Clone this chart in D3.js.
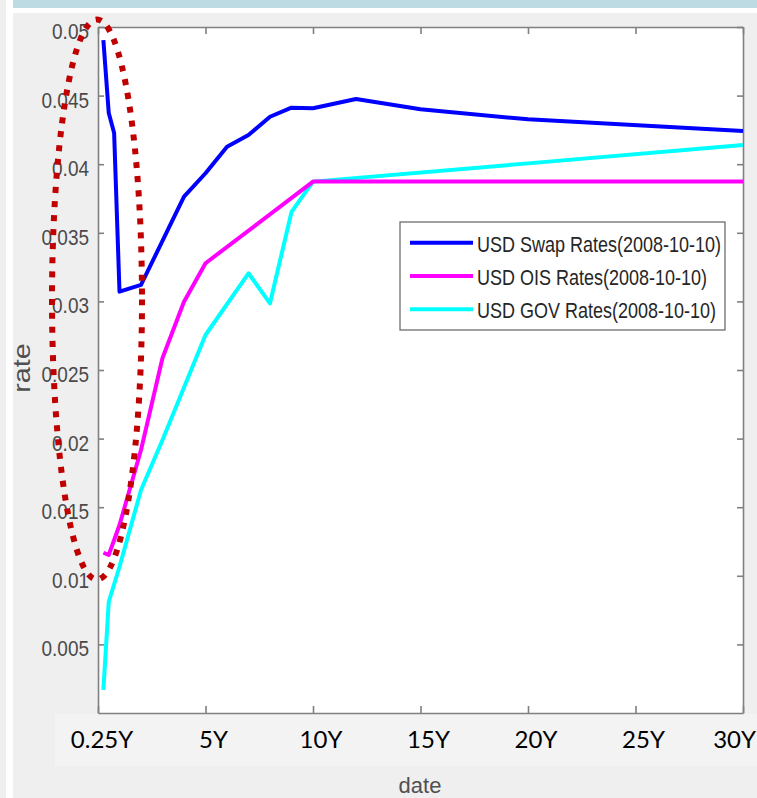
<!DOCTYPE html>
<html>
<head>
<meta charset="utf-8">
<script src="https://cdn.jsdelivr.net/npm/d3@7"></script>
<style>
  body { margin: 0; background: #efefef; }
  svg { display: block; }
</style>
</head>
<body>
<div class="chart"></div>
<script>
let swapTenors = [0.25, 0.5, 0.75, 1, 2, 4, 5, 6, 7, 8, 9, 10, 12, 15, 20, 30];
let swapRates  = [0.04905, 0.04373, 0.04228, 0.03071, 0.0312, 0.03763, 0.03934, 0.04128, 0.04213, 0.04346, 0.04412, 0.04408, 0.04475, 0.044, 0.04327, 0.04242];

let oisTenors = [0.25, 0.5, 0.75, 1, 2, 3, 4, 5, 10, 30];
let oisRates  = [0.01168, 0.01152, 0.01261, 0.0137, 0.01917, 0.02588, 0.02998, 0.03278, 0.03873, 0.03873];

let govTenors = [0.25, 0.5, 1, 2, 3, 5, 7, 8, 9, 10, 20, 30];
let govRates  = [0.00168, 0.00811, 0.01066, 0.01625, 0.0199, 0.02755, 0.03205, 0.02986, 0.03652, 0.03873, 0.04006, 0.0414];

let seriesNames = ["USD Swap Rates(2008-10-10)", "USD OIS Rates(2008-10-10)", "USD GOV Rates(2008-10-10)"];
let seriesColors = ["#0000ff", "#ff00ff", "#00ffff"];

let xTickValues = [0, 5, 10, 15, 20, 25, 30];
let xTickLabels = ["0.25Y", "5Y", "10Y", "15Y", "20Y", "25Y", "30Y"];
let yTickValues = [0.005, 0.01, 0.015, 0.02, 0.025, 0.03, 0.035, 0.04, 0.045, 0.05];
let yTickLabels = ["0.005", "0.01", "0.015", "0.02", "0.025", "0.03", "0.035", "0.04", "0.045", "0.05"];

let width = 757,
    height = 798,
    plot = {left: 98, right: 743, top: 27, bottom: 713},
    stretch = 1.2,
    axisColor = "#808080";

let svg = d3.select(".chart")
  .append("svg")
  .attr("width", width)
  .attr("height", height);

// window chrome around the figure
svg.append("rect").attr("width", width).attr("height", height).attr("fill", "#efefef");
svg.append("rect").attr("x", 6).attr("y", 0).attr("width", 7).attr("height", height).attr("fill", "#ffffff");
svg.append("rect").attr("x", 13).attr("y", 0).attr("width", width - 13).attr("height", 13).attr("fill", "#ffffff");
svg.append("rect").attr("x", 13).attr("y", 0).attr("width", width - 13).attr("height", 8).attr("fill", "#bddbe2");
svg.append("rect").attr("x", 55).attr("y", 714).attr("width", width - 55).attr("height", 52).attr("fill", "#f3f3f3");

let xScale = d3.scaleLinear().domain([0, 30]).range([plot.left, plot.right]);
let yScale = d3.scaleLinear().domain([0, 0.05]).range([plot.bottom, plot.top]);

svg.append("rect")
  .attr("x", plot.left)
  .attr("y", plot.top)
  .attr("width", plot.right - plot.left)
  .attr("height", plot.bottom - plot.top)
  .attr("fill", "#ffffff");

// MATLAB style box with inward ticks on every side
let xAxisBottom = d3.axisBottom(xScale).tickValues(xTickValues).tickSizeInner(-7).tickSizeOuter(0).tickFormat("");
let xAxisTop = d3.axisTop(xScale).tickValues(xTickValues).tickSizeInner(-7).tickSizeOuter(0).tickFormat("");
let yAxisLeft = d3.axisLeft(yScale).tickValues(yTickValues).tickSizeInner(-6).tickSizeOuter(0).tickPadding(9)
  .tickFormat((d, i) => yTickLabels[i]);
let yAxisRight = d3.axisRight(yScale).tickValues(yTickValues).tickSizeInner(-6).tickSizeOuter(0).tickFormat("");

svg.append("g").attr("class", "axis").attr("transform", `translate(0,${plot.bottom})`).call(xAxisBottom);
svg.append("g").attr("class", "axis").attr("transform", `translate(0,${plot.top})`).call(xAxisTop);
svg.append("g").attr("class", "axis").attr("transform", `translate(${plot.right},0)`).call(yAxisRight);
let yLeft = svg.append("g").attr("class", "axis y").attr("transform", `translate(${plot.left},0)`).call(yAxisLeft);

svg.selectAll(".axis path, .axis line")
  .attr("stroke", axisColor)
  .attr("stroke-width", 1.6);

yLeft.selectAll("text")
  .attr("font-family", "'Liberation Sans', Arial, sans-serif")
  .attr("font-size", 19)
  .attr("fill", "#4a4a4a")
  .attr("dy", "0.5em")
  .attr("transform", `scale(1,${stretch})`);

// lines
let line = d3.line().x(d => xScale(d[0])).y(d => yScale(d[1]));
let series = [
  d3.zip(swapTenors, swapRates),
  d3.zip(oisTenors, oisRates),
  d3.zip(govTenors, govRates)
];

// draw gov first so swap sits on top like the original
[2, 1, 0].forEach(i => {
  svg.append("path")
    .datum(series[i])
    .attr("fill", "none")
    .attr("stroke", seriesColors[i])
    .attr("stroke-width", 4)
    .attr("stroke-linejoin", "round")
    .attr("d", line);
});

// x tick labels (pasted Calibri-like text)
svg.selectAll(".x-label")
  .data(xTickValues)
  .enter()
  .append("text")
  .attr("class", "x-label")
  .attr("x", (d, i) => i == xTickValues.length - 1 ? width - 1 : xScale(d) + (i == 0 ? 4 : 8))
  .attr("y", 748)
  .attr("text-anchor", (d, i) => i == xTickValues.length - 1 ? "end" : "middle")
  .attr("font-family", "Lato, 'Open Sans', sans-serif")
  .attr("font-size", 24)
  .attr("fill", "#000000")
  .text((d, i) => xTickLabels[i]);

// axis titles
svg.append("g")
  .attr("transform", "translate(30,368) rotate(-90)")
  .append("text")
  .attr("transform", `scale(1.25,1)`)
  .attr("text-anchor", "middle")
  .attr("font-family", "'Liberation Sans', Arial, sans-serif")
  .attr("font-size", 23)
  .attr("fill", "#505050")
  .text("rate");

svg.append("text")
  .attr("x", 420)
  .attr("y", 793)
  .attr("text-anchor", "middle")
  .attr("font-family", "'Liberation Sans', Arial, sans-serif")
  .attr("font-size", 22)
  .attr("fill", "#505050")
  .text("date");

// legend
let legend = svg.append("g").attr("transform", "translate(400,222)");
legend.append("rect")
  .attr("width", 325)
  .attr("height", 108)
  .attr("fill", "#ffffff")
  .attr("stroke", "#6e6e6e")
  .attr("stroke-width", 1.3);

seriesNames.forEach((name, i) => {
  let row = legend.append("g").attr("transform", `translate(0,${20.7 + i * 33.3})`);
  row.append("line")
    .attr("x1", 10)
    .attr("x2", 73)
    .attr("stroke", seriesColors[i])
    .attr("stroke-width", 4);
  row.append("text")
    .attr("x", 77)
    .attr("y", 9 / 1.18)
    .attr("transform", "scale(1,1.18)")
    .attr("font-family", "'Liberation Sans', Arial, sans-serif")
    .attr("font-size", 18)
    .attr("fill", "#262626")
    .text(name);
});

// red dotted ellipse highlighting the short end
svg.append("ellipse")
  .attr("cx", 97)
  .attr("cy", 299.5)
  .attr("rx", 45)
  .attr("ry", 280)
  .attr("fill", "none")
  .attr("stroke", "#c00000")
  .attr("stroke-width", 6)
  .attr("stroke-dasharray", "6 8");
</script>
</body>
</html>
